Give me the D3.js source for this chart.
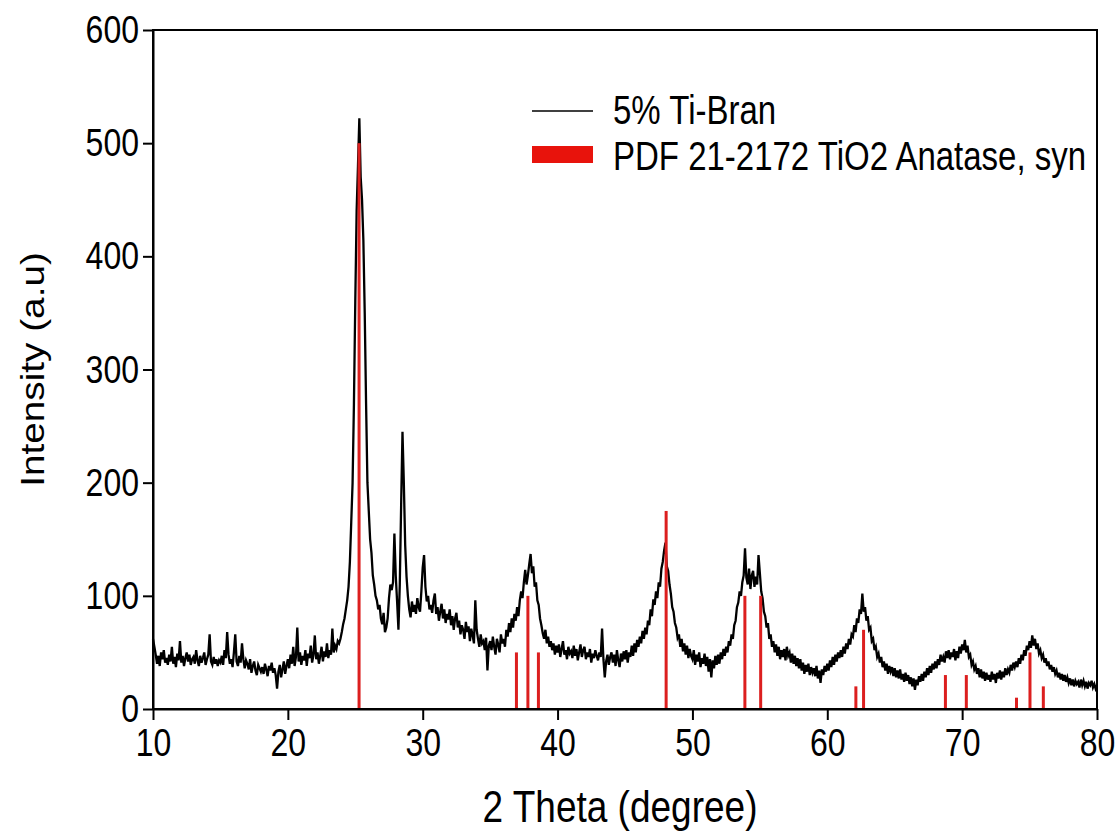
<!DOCTYPE html>
<html lang="en">
  <head>
    <title>XRD</title>
    <meta charset="UTF-8">
    <script src="https://d3js.org/d3.v7.min.js"></script>
    <style>
      * { margin: 0; padding: 0; }
      body { background: white; }
      svg { display: block; font-family: 'Liberation Sans', Arial, sans-serif; }
    </style>
  </head>
  <body>
    <script>
      // pattern sampled every 0.1 degree from 10 to 80
      const thetaStart = 10
      const thetaStep = 0.1
      const intensity = [
        62,55,48,40,47,38,50,44,52,41,
        45,39,48,42,55,40,46,37,49,43,
        60,41,47,38,45,50,42,48,39,44,
        46,40,52,43,38,47,41,45,50,39,
        44,48,66,42,39,46,40,44,38,43,
        41,47,39,52,45,68,48,40,44,37,
        50,66,42,38,47,41,58,44,36,43,
        40,35,44,32,38,42,34,30,39,36,
        33,37,31,40,35,29,38,34,41,32,
        36,30,18,33,39,28,35,42,31,38,
        44,36,48,40,55,38,46,72,42,50,
        39,47,43,52,38,49,45,56,41,48,
        65,44,50,40,47,55,42,51,46,58,
        45,52,48,71,50,56,53,60,58,62,
        68,75,80,88,96,108,130,165,200,270,
        360,440,480,522,470,450,414,350,270,200,
        175,150,138,118,110,100,96,88,92,80,
        75,85,68,72,80,98,110,105,112,155,
        118,95,70,110,180,245,200,145,117,100,
        88,81,95,86,92,84,98,90,86,104,
        125,136,108,95,100,88,92,85,96,102,
        84,90,78,86,93,80,88,76,84,79,
        88,74,82,70,80,85,72,78,66,74,
        70,62,77,68,73,60,71,65,58,96,
        70,62,55,66,58,60,52,63,34,56,
        60,52,64,55,48,62,57,50,66,58,
        62,55,70,64,76,68,80,72,84,78,
        90,82,96,104,98,112,123,110,118,128,
        137,120,126,108,112,96,92,80,74,67,
        62,70,58,64,55,60,52,58,48,56,
        50,57,46,53,60,48,52,44,55,49,
        51,45,56,47,53,43,50,57,46,52,
        55,44,50,46,53,41,49,45,52,47,
        43,50,46,71,44,28,42,48,39,46,
        50,41,48,38,52,43,37,49,42,51,
        44,52,41,50,46,56,47,58,50,61,
        55,64,58,69,62,72,66,78,74,88,
        82,97,92,104,98,112,108,124,130,140,
        147,126,122,110,102,90,86,76,72,63,
        66,55,62,51,58,48,56,45,53,47,
        44,52,39,48,42,50,37,45,40,49,
        38,46,33,44,28,43,36,47,39,48,
        40,50,44,53,47,55,50,60,56,66,
        62,74,78,90,94,104,100,112,118,142,
        116,110,124,106,118,122,108,117,110,136,
        120,104,98,86,82,72,76,62,66,55,
        60,50,57,47,55,44,52,46,53,43,
        55,47,50,41,49,40,47,38,45,36,
        44,34,41,31,39,33,40,30,37,32,
        36,29,38,27,34,23,35,30,38,33,
        40,34,43,37,46,39,48,42,50,45,
        52,46,55,49,58,53,62,57,66,64,
        74,68,80,76,88,84,102,86,90,78,
        82,70,72,60,62,52,55,46,49,41,
        46,37,42,34,40,31,38,33,37,29,
        36,28,34,27,35,26,31,24,32,25,
        30,22,28,20,27,17,26,21,29,24,
        31,25,33,28,36,30,38,32,40,35,
        42,36,44,39,48,42,46,41,51,45,
        52,44,50,46,53,43,51,45,55,49,
        57,52,61,50,56,46,48,39,42,35,
        38,31,36,28,35,27,33,25,32,26,
        30,24,33,26,31,23,32,27,34,26,
        33,28,36,30,35,32,39,34,41,37,
        42,37,45,40,48,43,52,47,56,52,
        60,54,65,56,62,53,58,49,52,45,
        48,41,45,38,42,35,39,33,37,31,
        34,28,32,26,31,25,30,24,28,23,
        27,21,26,20,25,22,24,19,26,21,
        25,20,24,18,23,21,25,19,22,18,
        21
      ]

      // PDF 21-2172 anatase reference lines
      const refAngles = [25.28, 36.95, 37.80, 38.58, 48.05, 53.89, 55.06, 62.12, 62.69, 68.76, 70.31, 74.03, 75.03, 76.02]
      const refHeights = [500, 50, 100, 50, 175, 100, 100, 20, 70, 30, 30, 10, 50, 20]

      const xTicks = [10, 20, 30, 40, 50, 60, 70, 80]
      const yTicks = [0, 100, 200, 300, 400, 500, 600]
      const seriesNames = ['5% Ti-Bran', 'PDF 21-2172 TiO2 Anatase, syn']

      const width = 1120
      const height = 832
      const margin = { left: 153, right: 23, top: 30, bottom: 123 }
      const stretch = 1.22   // text in the original is drawn taller than wide

      const data = intensity.map((v, i) => [thetaStart + i * thetaStep, v])

      const xScale = d3.scaleLinear()
                       .domain([10, 80])
                       .range([margin.left, width - margin.right])
      const yScale = d3.scaleLinear()
                       .domain([0, 600])
                       .range([height - margin.bottom, margin.top])

      const svg = d3.select('body')
                    .append('svg')
                    .attr('width', width)
                    .attr('height', height)

      const line = d3.line()
                     .x(d => xScale(d[0]))
                     .y(d => yScale(d[1]))

      svg.append('path')
         .datum(data)
         .attr('d', line)
         .attr('fill', 'none')
         .attr('stroke', '#000')
         .attr('stroke-width', 2.3)
         .attr('stroke-linejoin', 'miter')

      svg.selectAll('rect.ref')
         .data(refAngles)
         .enter()
         .append('rect')
         .attr('class', 'ref')
         .attr('x', d => xScale(d) - 1.5)
         .attr('width', 3)
         .attr('y', (d, i) => yScale(refHeights[i]))
         .attr('height', (d, i) => yScale(0) - yScale(refHeights[i]))
         .attr('fill', '#dc1f1f')

      // frame
      svg.append('rect')
         .attr('x', xScale(10))
         .attr('y', yScale(600))
         .attr('width', xScale(80) - xScale(10))
         .attr('height', yScale(0) - yScale(600))
         .attr('fill', 'none')
         .attr('stroke', '#000')
         .attr('stroke-width', 2)

      const xAxis = d3.axisBottom(xScale).tickValues(xTicks).tickSize(11).tickSizeOuter(0)
      const yAxis = d3.axisLeft(yScale).tickValues(yTicks).tickSize(10).tickPadding(4).tickSizeOuter(0)

      const gx = svg.append('g')
                    .attr('transform', 'translate(0,' + yScale(0) + ')')
                    .call(xAxis)
      const gy = svg.append('g')
                    .attr('transform', 'translate(' + xScale(10) + ',0)')
                    .call(yAxis)

      for (const g of [gx, gy]) {
        g.select('.domain').attr('stroke-width', 2)
        g.selectAll('.tick line').attr('stroke-width', 2)
        g.selectAll('.tick text')
         .attr('font-size', 32)
         .attr('font-family', "'Liberation Sans', Arial, sans-serif")
         .attr('fill', '#000')
      }
      gx.selectAll('.tick text')
        .attr('dy', 0)
        .attr('y', 47 / stretch)
        .attr('transform', 'scale(1,' + stretch + ')')
      gy.selectAll('.tick text')
        .attr('transform', 'scale(1,' + stretch + ')')

      svg.append('text')
         .text('2 Theta (degree)')
         .attr('transform', 'translate(620,822) scale(1,' + stretch + ')')
         .attr('text-anchor', 'middle')
         .attr('font-size', 37)

      svg.append('text')
         .text('Intensity (a.u)')
         .attr('transform', 'translate(44,' + (yScale(300)) + ') rotate(-90) scale(' + 1.14 + ',1)')
         .attr('text-anchor', 'middle')
         .attr('font-size', 34)

      // legend
      const legend = svg.append('g')
      legend.append('line')
            .attr('x1', 532).attr('x2', 593)
            .attr('y1', 111).attr('y2', 111)
            .attr('stroke', '#000')
            .attr('stroke-width', 1.6)
      legend.append('rect')
            .attr('x', 532).attr('y', 146)
            .attr('width', 61).attr('height', 17)
            .attr('fill', '#e8130c')
      legend.selectAll('text')
            .data(seriesNames)
            .enter()
            .append('text')
            .text(d => d)
            .attr('transform', (d, i) => 'translate(613,' + (124 + i * 46) + ') scale(1,' + stretch + ')')
            .attr('font-size', 33)
    </script>
  </body>
</html>
